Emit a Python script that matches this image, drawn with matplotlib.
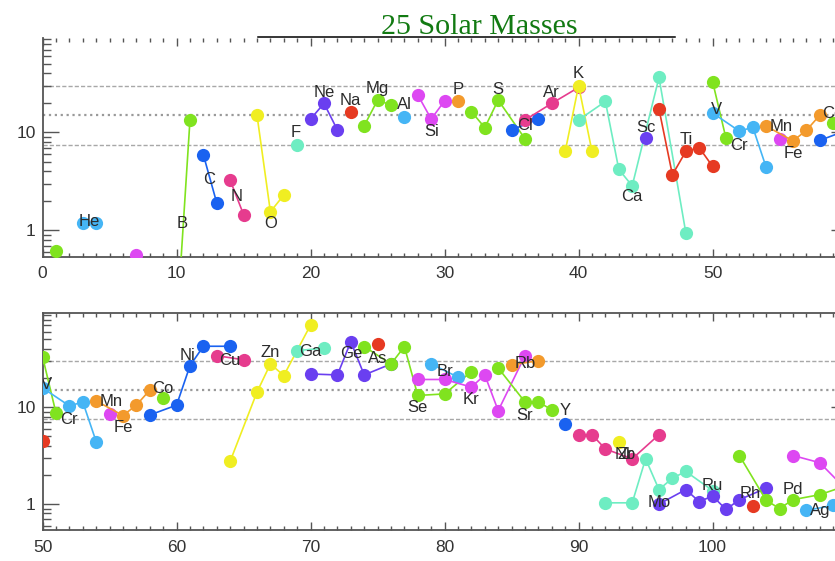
import numpy as np
import pandas as pd
import matplotlib
matplotlib.use('Agg')
import matplotlib.pyplot as plt
from matplotlib.lines import Line2D
from matplotlib.ticker import LogLocator, NullFormatter, MultipleLocator


# element order by Z (Tc has no stable isotope, so it is left out)
elements = ['H', 'He', 'Li', 'Be', 'B', 'C', 'N', 'O', 'F', 'Ne', 'Na', 'Mg',
            'Al', 'Si', 'P', 'S', 'Cl', 'Ar', 'K', 'Ca', 'Sc', 'Ti', 'V', 'Cr',
            'Mn', 'Fe', 'Co', 'Ni', 'Cu', 'Zn', 'Ga', 'Ge', 'As', 'Se', 'Br',
            'Kr', 'Rb', 'Sr', 'Y', 'Zr', 'Nb', 'Mo', 'Ru', 'Rh', 'Pd', 'Ag', 'Cd']

# isotopic production factors
iso_elem = ['H', 'H', 'He', 'He', 'Li', 'B', 'B', 'C', 'C', 'N', 'N',
            'O', 'O', 'O', 'F', 'Ne', 'Ne', 'Ne', 'Na', 'Mg', 'Mg', 'Mg', 'Al',
            'Si', 'Si', 'Si', 'P', 'S', 'S', 'S', 'S', 'Cl', 'Cl',
            'Ar', 'Ar', 'Ar', 'K', 'K', 'K',
            'Ca', 'Ca', 'Ca', 'Ca', 'Ca', 'Ca', 'Sc',
            'Ti', 'Ti', 'Ti', 'Ti', 'Ti', 'V', 'V', 'Cr', 'Cr', 'Cr', 'Cr', 'Mn',
            'Fe', 'Fe', 'Fe', 'Fe', 'Co', 'Ni', 'Ni', 'Ni', 'Ni', 'Ni', 'Cu', 'Cu',
            'Zn', 'Zn', 'Zn', 'Zn', 'Zn', 'Ga', 'Ga',
            'Ge', 'Ge', 'Ge', 'Ge', 'Ge', 'As',
            'Se', 'Se', 'Se', 'Se', 'Se', 'Se', 'Br', 'Br',
            'Kr', 'Kr', 'Kr', 'Kr', 'Kr', 'Kr', 'Rb', 'Rb',
            'Sr', 'Sr', 'Sr', 'Sr', 'Y', 'Zr', 'Zr', 'Zr', 'Zr', 'Zr', 'Nb',
            'Mo', 'Mo', 'Mo', 'Mo', 'Mo', 'Mo', 'Mo',
            'Ru', 'Ru', 'Ru', 'Ru', 'Ru', 'Ru', 'Ru', 'Rh',
            'Pd', 'Pd', 'Pd', 'Pd', 'Pd', 'Pd', 'Ag', 'Ag', 'Cd', 'Cd', 'Cd']
iso_mass = [1, 2, 3, 4, 7, 10, 11, 12, 13, 14, 15,
            16, 17, 18, 19, 20, 21, 22, 23, 24, 25, 26, 27,
            28, 29, 30, 31, 32, 33, 34, 36, 35, 37,
            36, 38, 40, 39, 40, 41,
            40, 42, 43, 44, 46, 48, 45,
            46, 47, 48, 49, 50, 50, 51, 50, 52, 53, 54, 55,
            54, 56, 57, 58, 59, 58, 60, 61, 62, 64, 63, 65,
            64, 66, 67, 68, 70, 69, 71,
            70, 72, 73, 74, 76, 75,
            74, 76, 77, 78, 80, 82, 79, 81,
            78, 80, 82, 83, 84, 86, 85, 87,
            84, 86, 87, 88, 89, 90, 91, 92, 94, 96, 93,
            92, 94, 95, 96, 97, 98, 100,
            96, 98, 99, 100, 101, 102, 104, 103,
            102, 104, 105, 106, 108, 110, 107, 109, 106, 108, 110]
iso_pf = [0.62, 0.001, 1.2, 1.2, 0.56, 0.1, 13.5, 5.9, 1.9, 3.25, 1.45,
          15.0, 1.55, 2.3, 7.5, 13.7, 19.8, 10.6, 16.3, 11.7, 21.4, 19.0, 14.5,
          24.1, 13.7, 21.0, 21.0, 16.3, 11.2, 21.4, 8.6, 10.6, 13.7,
          13.4, 19.8, 28.8, 6.4, 30.0, 6.4,
          13.4, 20.7, 4.2, 2.85, 36.4, 0.95, 8.7,
          17.3, 3.7, 6.4, 7.0, 4.5, 33.0, 8.7, 15.8, 10.3, 11.3, 4.4, 8.6,
          11.6, 8.2, 10.5, 15.0, 12.4, 8.3, 10.5, 26.8, 42.5, 42.5, 34.0, 30.8,
          2.77, 14.3, 27.9, 21.2, 70.5, 38.4, 40.5,
          22.0, 21.5, 47.4, 21.5, 27.9, 45.0,
          42.2, 27.9, 42.2, 13.2, 13.7, 23.3, 27.9, 20.4,
          19.3, 19.3, 16.1, 21.5, 9.2, 34.0, 27.3, 30.2,
          25.4, 11.3, 11.3, 9.4, 6.7, 5.1, 5.2, 3.7, 2.93, 5.2, 4.36,
          1.03, 1.03, 2.93, 1.41, 1.85, 2.17, 1.38,
          1.0, 1.41, 1.06, 1.21, 0.88, 1.11, 1.46, 0.95,
          3.17, 1.09, 0.9, 1.11, 1.25, 1.55, 0.86, 0.97, 3.17, 2.67, 1.4]

# element names and where they sit
label_elem = ['He', 'B', 'C', 'N', 'O', 'F', 'Ne', 'Na', 'Mg', 'Al', 'Si', 'P',
              'S', 'Cl', 'Ar', 'K', 'Ca', 'Sc', 'Ti', 'V', 'Cr', 'Mn', 'Fe',
              'Co', 'Ni', 'Cu', 'Zn', 'Ga', 'Ge', 'As', 'Se', 'Br', 'Kr', 'Rb',
              'Sr', 'Y', 'Zr', 'Nb', 'Mo', 'Ru', 'Rh', 'Pd', 'Ag']
label_x = [3.5, 10.4, 12.45, 14.5, 17.0, 18.9, 21.0, 23.0, 25.0, 27.0, 29.0, 31.0,
           34.0, 36.0, 38.0, 40.0, 44.0, 45.0, 48.0, 50.3, 52.0, 55.1, 56.0,
           59.0, 60.8, 64.0, 67.0, 70.0, 73.0, 75.0, 78.0, 80.0, 82.0, 86.0,
           86.0, 89.0, 93.5, 93.5, 96.0, 100.0, 102.8, 106.0, 108.0]
label_y = [1.23, 1.17, 3.3, 2.2, 1.17, 10.0, 25.6, 21.1, 27.8, 19.2, 10.2, 27.1,
           27.1, 11.7, 25.6, 39.5, 2.2, 11.1, 8.4, 17.0, 7.4, 11.4, 6.1,
           15.7, 34.5, 30.2, 36.9, 37.4, 35.4, 32.0, 10.0, 23.3, 12.0, 27.9,
           8.2, 9.2, 3.25, 3.25, 1.05, 1.55, 1.28, 1.42, 0.86]

ref_levels = [7.5, 15.0, 30.0]
panel_xlim = [(0, 60), (50, 110)]
panel_xticks = [[0, 10, 20, 30, 40, 50], [50, 60, 70, 80, 90, 100]]

palette = ['#80e31f', '#45b5f5', '#dd48f2', '#f39a2c', '#80e31f', '#1a62f0',
           '#e63c8e', '#f0ee22', '#6eedc2', '#6a3ff0', '#e63a22']

df = pd.DataFrame({'elem': iso_elem, 'A': iso_mass, 'pf': iso_pf})
color_of = {el: palette[i % len(palette)] for i, el in enumerate(elements)}

W, H = 835, 561
fig = plt.figure(figsize=(W / 100, H / 100), dpi=100)

x0, x1 = 42.6, 846.6
boxes = [(37.5, 256.7), (313.3, 530.0)]

tick_font = {'family': 'Liberation Sans', 'size': 12.5}
spine_col = '#555555'

for k, (top, bot) in enumerate(boxes):
    ax = fig.add_axes([x0 / W, 1 - bot / H, (x1 - x0) / W, (bot - top) / H])
    ax.set_yscale('log')
    lo, hi = panel_xlim[k]
    ax.set_xlim(lo, hi)
    ax.set_ylim(0.54, 93)

    ax.axhline(ref_levels[0], color='#a8a8a8', lw=1.0, ls=(0, (3, 1.5)), zorder=1)
    ax.axhline(ref_levels[1], color='#9a9a9a', lw=1.6, ls=':', zorder=1)
    ax.axhline(ref_levels[2], color='#a8a8a8', lw=1.0, ls=(0, (3, 1.5)), zorder=1)

    for el in elements:
        sub = df[df['elem'] == el].sort_values('A')
        if sub.empty:
            continue
        ax.plot(sub['A'], sub['pf'], '-o', color=color_of[el], lw=1.2,
                ms=9.5, mec='none', zorder=3)

    # only name the elements that fall inside this panel
    for name, lx, ly in zip(label_elem, label_x, label_y):
        if lx < lo or lx > hi - 0.9:
            continue
        ax.text(lx, ly, name, ha='center', va='center', color='#2b2b2b',
                fontsize=12, family='Liberation Sans', clip_on=True, zorder=5)

    ax.set_xticks(panel_xticks[k])
    ax.xaxis.set_minor_locator(MultipleLocator(1))
    ax.set_yticks([1, 10])
    ax.set_yticklabels(['1', '10'])
    ax.yaxis.set_minor_locator(LogLocator(base=10, subs=np.arange(2, 10)))
    ax.yaxis.set_minor_formatter(NullFormatter())
    for lab in ax.get_xticklabels() + ax.get_yticklabels():
        lab.set_fontproperties(tick_font)
        lab.set_color('#333333')

    ax.tick_params(which='both', direction='in', top=True, right=True,
                   color=spine_col, width=1.0)
    ax.tick_params(axis='y', which='major', length=11.5, pad=5)
    ax.tick_params(axis='y', which='minor', length=5.5)
    ax.tick_params(axis='x', which='major', length=5.5, pad=7)
    ax.tick_params(axis='x', which='minor', length=2.8)
    for s in ax.spines.values():
        s.set_color(spine_col)
        s.set_linewidth(1.3)
    if k == 0:
        ax.spines['top'].set_visible(False)

# heading with its underline
fig.text(479.5 / W, 1 - 34.3 / H, '25 Solar Masses', ha='center', va='baseline',
         color='#127a12', fontsize=21.6, family='Liberation Serif')
fig.add_artist(Line2D([258 / W, 675 / W], [1 - 36.7 / H, 1 - 36.7 / H],
                      transform=fig.transFigure, color='black', lw=1.1))

fig.savefig('out.png', dpi=100)
